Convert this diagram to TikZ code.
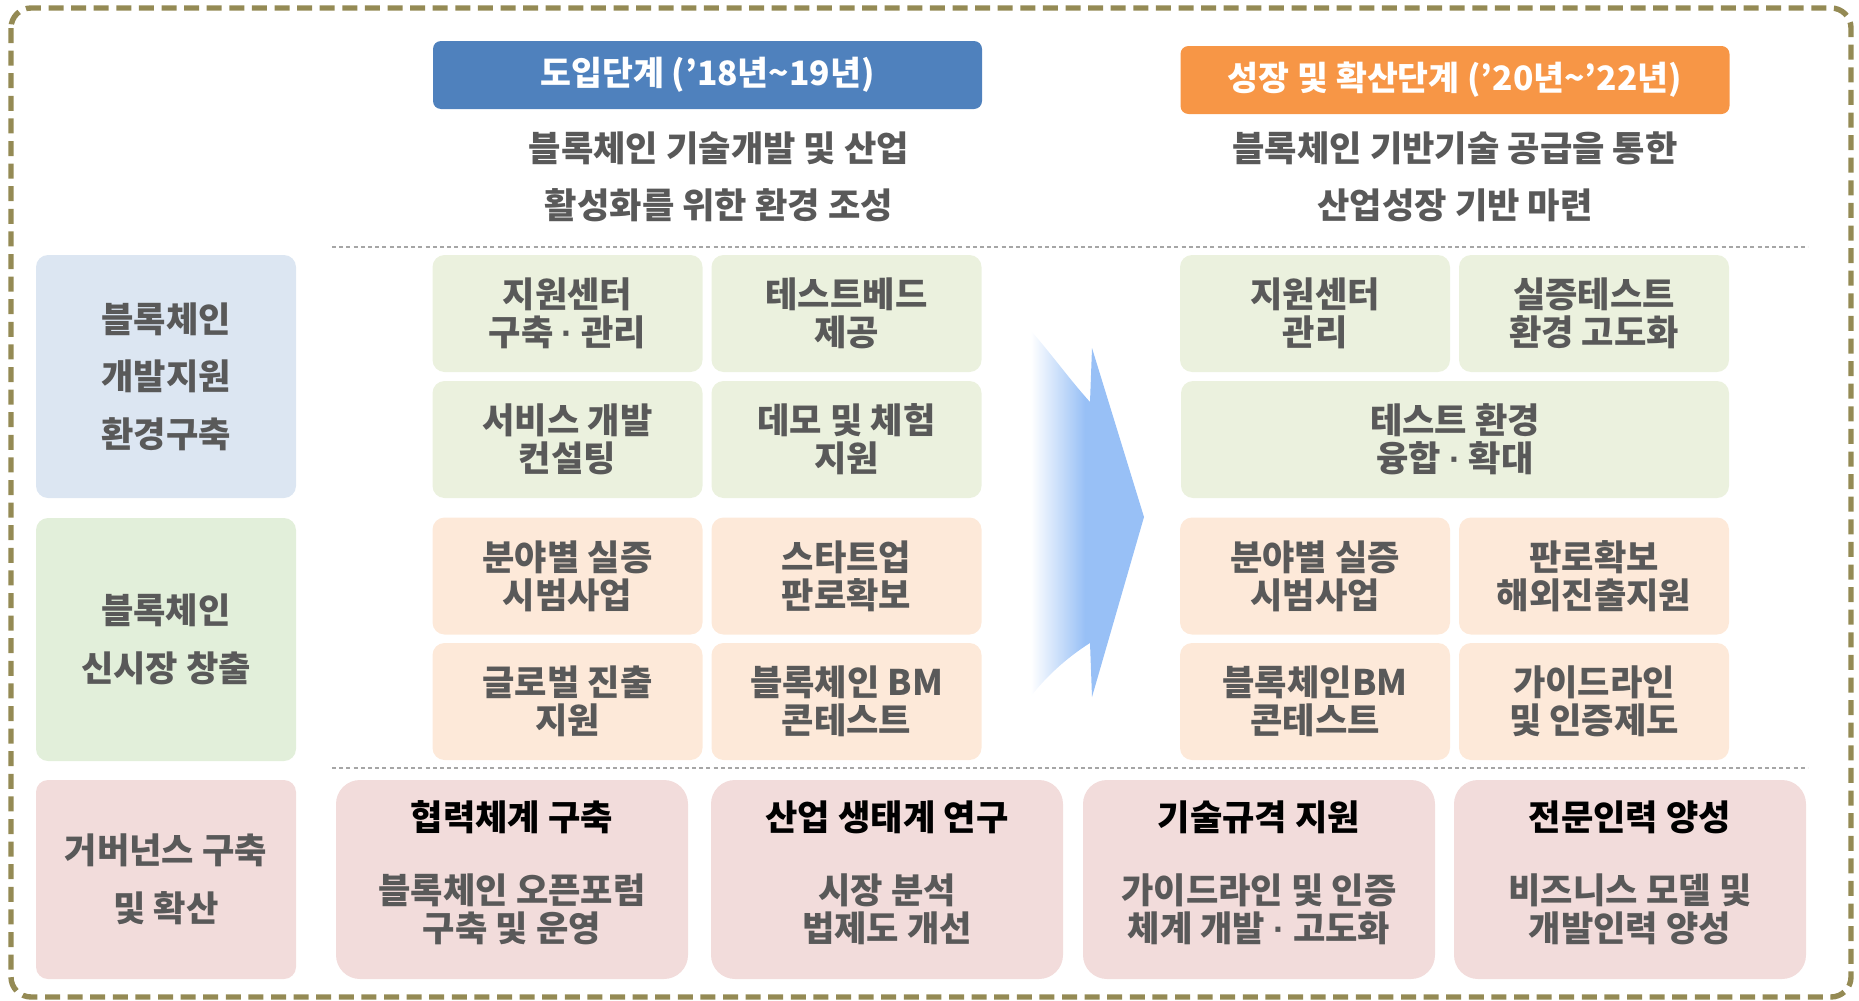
\documentclass[tikz,border=0pt]{standalone}
\usepackage{fontspec}
\setmainfont{Noto Sans CJK KR}
\newfontfamily\latinfont{Liberation Sans}
\newcommand\mdot{{\latinfont\bfseries ·}}
\definecolor{bordercol}{RGB}{148,138,84}
\definecolor{headblue}{RGB}{79,129,189}
\definecolor{headorange}{RGB}{247,150,70}
\definecolor{txtgray}{RGB}{89,89,89}
\definecolor{sepgray}{RGB}{166,166,166}
\definecolor{leftblue}{RGB}{220,230,242}
\definecolor{leftgreen}{RGB}{226,239,218}
\definecolor{boxgreen}{RGB}{235,241,222}
\definecolor{boxorange}{RGB}{253,233,217}
\definecolor{boxpink}{RGB}{242,220,219}
\definecolor{arrowblue}{RGB}{152,192,246}
\pgfdeclarehorizontalshading{arrowfade}{100bp}{color(0bp)=(white); color(27bp)=(white); color(50bp)=(arrowblue); color(100bp)=(arrowblue)}
\begin{document}
\begin{tikzpicture}[x=0.5pt, y=-0.5pt, line join=round,
  font=\bfseries\fontsize{17.6}{19}\selectfont,
  box/.style={inner sep=0pt, rounded corners=6pt, align=center, text=txtgray},
  cell/.style={box, minimum width=135pt, minimum height=58.5pt},
  gbox/.style={cell, fill=boxgreen},
  obox/.style={cell, fill=boxorange},
  lbox/.style={box, wide, minimum width=130pt, minimum height=121.5pt},
  gov/.style={box, fill=boxpink, rounded corners=12pt, minimum width=176pt, minimum height=99.5pt},
  head/.style={inner sep=0pt, rounded corners=4pt, text=white, minimum width=274.5pt, minimum height=34pt,
    font=\bfseries\fontsize{16.8}{19}\selectfont},
  wide/.style={font=\bfseries\fontsize{17.6}{28.75}\selectfont},
  sep/.style={draw=sepgray, line width=0.8pt, dash pattern=on 2pt off 1.6pt}]
\useasboundingbox (0,0) rectangle (1859,1001);
\draw[bordercol, line width=2.7pt, dash pattern=on 7.5pt off 3.8pt, rounded corners=10pt] (11,8) rectangle (1851,997);
% headers
\node (h1) [head, fill=headblue] at (707.5,75) {도입단계 (’18년\textasciitilde19년)};
\node (h2) [head, fill=headorange] at (1455,80) {성장 및 확산단계 (’20년\textasciitilde’22년)};
\node (s1) [wide, text=txtgray, align=center] at (719,177) {블록체인 기술개발 및 산업\\활성화를 위한 환경 조성};
\node (s2) [wide, text=txtgray, align=center] at (1455,177) {블록체인 기반기술 공급을 통한\\산업성장 기반 마련};
\draw[sep] (332,247) -- (1808,247);
\draw[sep] (332,768) -- (1808,768);
% left column
\node (l1) [lbox, fill=leftblue] at (166,376.5) {블록체인\\개발지원\\환경구축};
\node (l2) [lbox, fill=leftgreen] at (166,639.5) {블록체인\\신시장 창출};
\node (l3) [lbox, fill=boxpink, minimum height=99.5pt] at (166,879.5) {거버넌스 구축\\및 확산};
% first stage
\node (a11) [gbox] at (567.5,313.5) {지원센터\\구축 \mdot{} 관리};
\node (a12) [gbox] at (846.5,313.5) {테스트베드\\제공};
\node (a21) [gbox] at (567.5,439.5) {서비스 개발\\컨설팅};
\node (a22) [gbox] at (846.5,439.5) {데모 및 체험\\지원};
\node (a31) [obox] at (567.5,576) {분야별 실증\\시범사업};
\node (a32) [obox] at (846.5,576) {스타트업\\판로확보};
\node (a41) [obox] at (567.5,701.5) {글로벌 진출\\지원};
\node (a42) [obox] at (846.5,701.5) {블록체인 BM\\콘테스트};
% arrow
\shade[shading=arrowfade] (1026,325) .. controls (1050,352) and (1070,380) .. (1090,402)
  -- (1092,348) -- (1144,517) -- (1092,697) -- (1090,643) .. controls (1066,658) and (1042,680) .. (1026,703) -- cycle;
% second stage
\node (b11) [gbox] at (1315,313.5) {지원센터\\관리};
\node (b12) [gbox] at (1594,313.5) {실증테스트\\환경 고도화};
\node (b2) [gbox, minimum width=274pt] at (1455,439.5) {테스트 환경\\융합 \mdot{} 확대};
\node (b31) [obox] at (1315,576) {분야별 실증\\시범사업};
\node (b32) [obox] at (1594,576) {판로확보\\해외진출지원};
\node (b41) [obox] at (1315,701.5) {블록체인BM\\콘테스트};
\node (b42) [obox] at (1594,701.5) {가이드라인\\및 인증제도};
% governance
\foreach \n/\x/\ti/\bo in {1/512/{협력체계 구축}/{블록체인 오픈포럼\\구축 및 운영},
    2/887/{산업 생태계 연구}/{시장 분석\\법제도 개선},
    3/1259/{기술규격 지원}/{가이드라인 및 인증\\체계 개발 \mdot{} 고도화},
    4/1630/{전문인력 양성}/{비즈니스 모델 및\\개발인력 양성}} {
  \node (g\n) [gov] at (\x,879.5) {};
  \node (gt\n) [text=black] at ([yshift=-19pt]g\n.north) {\ti};
  \node (gb\n) [align=center, text=txtgray] at ([yshift=-65pt]g\n.north) {\bo};
}
\end{tikzpicture}
\end{document}
